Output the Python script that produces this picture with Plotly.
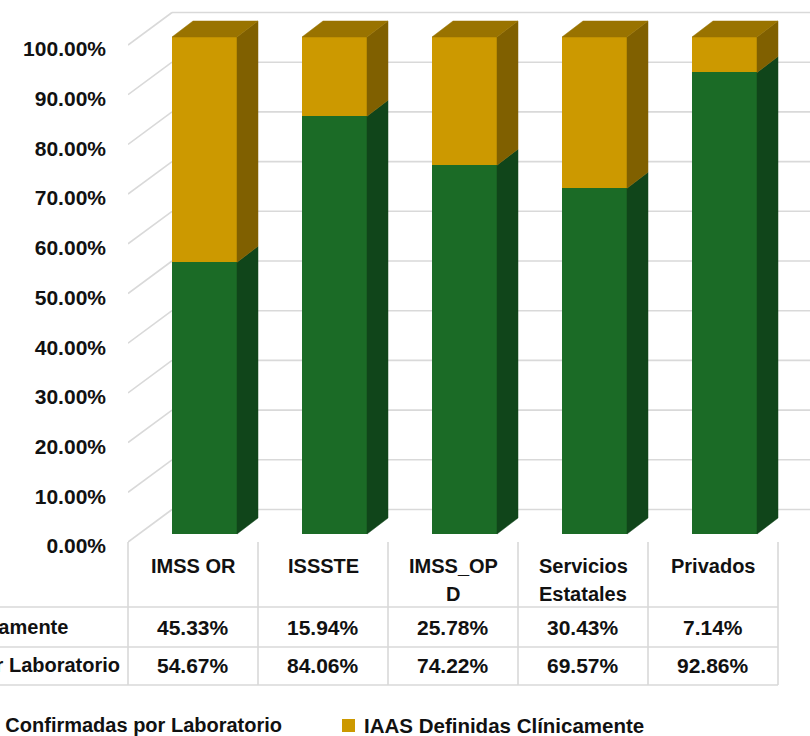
import plotly.graph_objects as go

# ---------------- data ----------------
categories = ["IMSS OR", "ISSSTE", "IMSS_OPD", "Servicios Estatales", "Privados"]
header_lines = [["IMSS OR"], ["ISSSTE"], ["IMSS_OP", "D"], ["Servicios", "Estatales"], ["Privados"]]
lab_pct = [54.67, 84.06, 74.22, 69.57, 92.86]     # IAAS Confirmadas por Laboratorio
clin_pct = [45.33, 15.94, 25.78, 30.43, 7.14]     # IAAS Definidas Clínicamente
series_names = ["IAAS Confirmadas por Laboratorio", "IAAS Definidas Clínicamente"]
tick_pct = [0, 10, 20, 30, 40, 50, 60, 70, 80, 90, 100]

# ---------------- styling / geometry ----------------
W, H = 810, 736
L = 128            # left edge of plot area (px)
PXX = 130          # px per category
PXY = 497          # px per 100 %
Y0 = 542           # px of 0 % on front plane

GREEN, GREEN_SIDE = "#1B6B26", "#10451A"
GOLD, GOLD_SIDE, GOLD_TOP = "#CC9900", "#806000", "#997300"
GRID = "#D9D9D9"
TXT = "#111111"
FONT = "Liberation Sans, Arial, sans-serif"

x_min = -0.5
x_max = x_min + (W - L) / PXX
y_max = Y0 / PXY
y_min = -(H - Y0) / PXY

bar_off = -21 / PXX      # front-face left edge relative to category centre
bar_w = 65 / PXX
bar_dy = 8 / PXY         # front face lifted (depth position)
side_dx, side_dy = 21 / PXX, 16 / PXY
wall_dx, wall_dy = 44 / PXX, 32.5 / PXY

n = len(categories)
idx = list(range(n))
lab = [v / 100 for v in lab_pct]
clin = [v / 100 for v in clin_pct]


def px(x):  # pixel -> paper x
    return (x - L) / (W - L)


def py(y):  # pixel -> paper y
    return (H - y) / H


fig = go.Figure()
shapes = []

# back wall / floor gridlines (below the bars)
for t in tick_pct:
    v = t / 100
    shapes.append(dict(type="line", xref="x", yref="y", layer="below",
                       x0=x_min, y0=v, x1=x_min + wall_dx, y1=v + wall_dy,
                       line=dict(color=GRID, width=1.6)))
    shapes.append(dict(type="line", xref="x", yref="y", layer="below",
                       x0=x_min + wall_dx, y0=v + wall_dy, x1=x_max, y1=v + wall_dy,
                       line=dict(color=GRID, width=1.6)))

# front faces
fig.add_trace(go.Bar(x=idx, y=lab, base=[bar_dy] * n, offset=bar_off, width=bar_w,
                     marker=dict(color=GREEN, line=dict(width=0)), name=series_names[0],
                     showlegend=False))
fig.add_trace(go.Bar(x=idx, y=clin, base=[l + bar_dy for l in lab], offset=bar_off, width=bar_w,
                     marker=dict(color=GOLD, line=dict(width=0)), name=series_names[1],
                     showlegend=False))


def side_poly(i, b, t):
    xr = i + bar_off + bar_w
    return ([xr, xr + side_dx, xr + side_dx, xr, xr, None],
            [b, b + side_dy, t + side_dy, t, b, None])


sgx, sgy, sox, soy, tx, ty = [], [], [], [], [], []
for i in idx:
    b = bar_dy
    m = lab[i] + bar_dy
    t = lab[i] + clin[i] + bar_dy
    a, c = side_poly(i, b, m)
    sgx += a; sgy += c
    a, c = side_poly(i, m, t)
    sox += a; soy += c
    xl = i + bar_off
    xr = xl + bar_w
    tx += [xl, xl + side_dx, xr + side_dx, xr, xl, None]
    ty += [t, t + side_dy, t + side_dy, t, t, None]

for xs, ys, col in [(sgx, sgy, GREEN_SIDE), (sox, soy, GOLD_SIDE), (tx, ty, GOLD_TOP)]:
    fig.add_trace(go.Scatter(x=xs, y=ys, mode="lines", fill="toself", fillcolor=col,
                             line=dict(color=col, width=0.5), hoverinfo="skip", showlegend=False))

# ---------------- data table ----------------
col_edges = [i - 0.5 for i in range(n + 1)]
for e in col_edges:
    xp = L + (e - x_min) * PXX
    shapes.append(dict(type="line", xref="paper", yref="paper", x0=px(xp), x1=px(xp),
                       y0=py(542), y1=py(685), line=dict(color=GRID, width=1.6)))
right_px = L + (col_edges[-1] - x_min) * PXX
for yy in [607, 647, 685]:
    shapes.append(dict(type="line", xref="paper", yref="paper", x0=px(-5), x1=px(right_px),
                       y0=py(yy), y1=py(yy), line=dict(color=GRID, width=1.6)))

annotations = []
hfont = dict(family=FONT, size=20, color=TXT, weight="bold")
vfont = dict(family=FONT, size=21, color=TXT, weight="bold")
for i in idx:
    cx = L + (i - x_min) * PXX
    for k, line in enumerate(header_lines[i]):
        annotations.append(dict(text=line, x=px(cx), y=py(566 + 28 * k), xref="paper", yref="paper",
                                showarrow=False, xanchor="center", yanchor="middle", font=hfont))
    annotations.append(dict(text=f"{clin_pct[i]:.2f}%", x=px(cx), y=py(627), xref="paper", yref="paper",
                            showarrow=False, xanchor="center", yanchor="middle", font=vfont))
    annotations.append(dict(text=f"{lab_pct[i]:.2f}%", x=px(cx), y=py(665), xref="paper", yref="paper",
                            showarrow=False, xanchor="center", yanchor="middle", font=vfont))

# row labels (left-cropped in the reference)
rfont = dict(family=FONT, size=20, color=TXT, weight="bold")
annotations.append(dict(text=series_names[1], x=px(70), y=py(627), xref="paper", yref="paper",
                        showarrow=False, xanchor="right", yanchor="middle", font=rfont))
annotations.append(dict(text=series_names[0], x=px(122), y=py(665), xref="paper", yref="paper",
                        showarrow=False, xanchor="right", yanchor="middle", font=rfont))

# ---------------- legend ----------------
lfont = dict(family=FONT, size=20.5, color=TXT, weight="bold")
annotations.append(dict(text=series_names[0], x=px(284), y=py(725), xref="paper", yref="paper",
                        showarrow=False, xanchor="right", yanchor="middle",
                        font=dict(family=FONT, size=20, color=TXT, weight="bold")))
shapes.append(dict(type="rect", xref="paper", yref="paper", x0=px(342), x1=px(355),
                   y0=py(732), y1=py(719), fillcolor=GOLD, line=dict(width=0)))
annotations.append(dict(text=series_names[1], x=px(362), y=py(725), xref="paper", yref="paper",
                        showarrow=False, xanchor="left", yanchor="middle", font=lfont))

fig.update_layout(
    width=W, height=H,
    margin=dict(l=L, r=0, t=0, b=0, pad=0),
    paper_bgcolor="white", plot_bgcolor="white",
    barmode="overlay", bargap=0,
    showlegend=False,
    shapes=shapes, annotations=annotations,
    xaxis=dict(range=[x_min, x_max], showgrid=False, zeroline=False, showticklabels=False,
               showline=False, ticks=""),
    yaxis=dict(range=[y_min, y_max], showgrid=False, zeroline=False, showline=False, ticks="",
               tickvals=[t / 100 for t in tick_pct], tickformat=".2%",
               ticklabelstandoff=21, ticklabelshift=4,
               tickfont=dict(family=FONT, size=21, color=TXT, weight="bold")),
)

fig.write_html("out.html", config={"displayModeBar": False},
               post_script="document.body.style.margin='0';")
